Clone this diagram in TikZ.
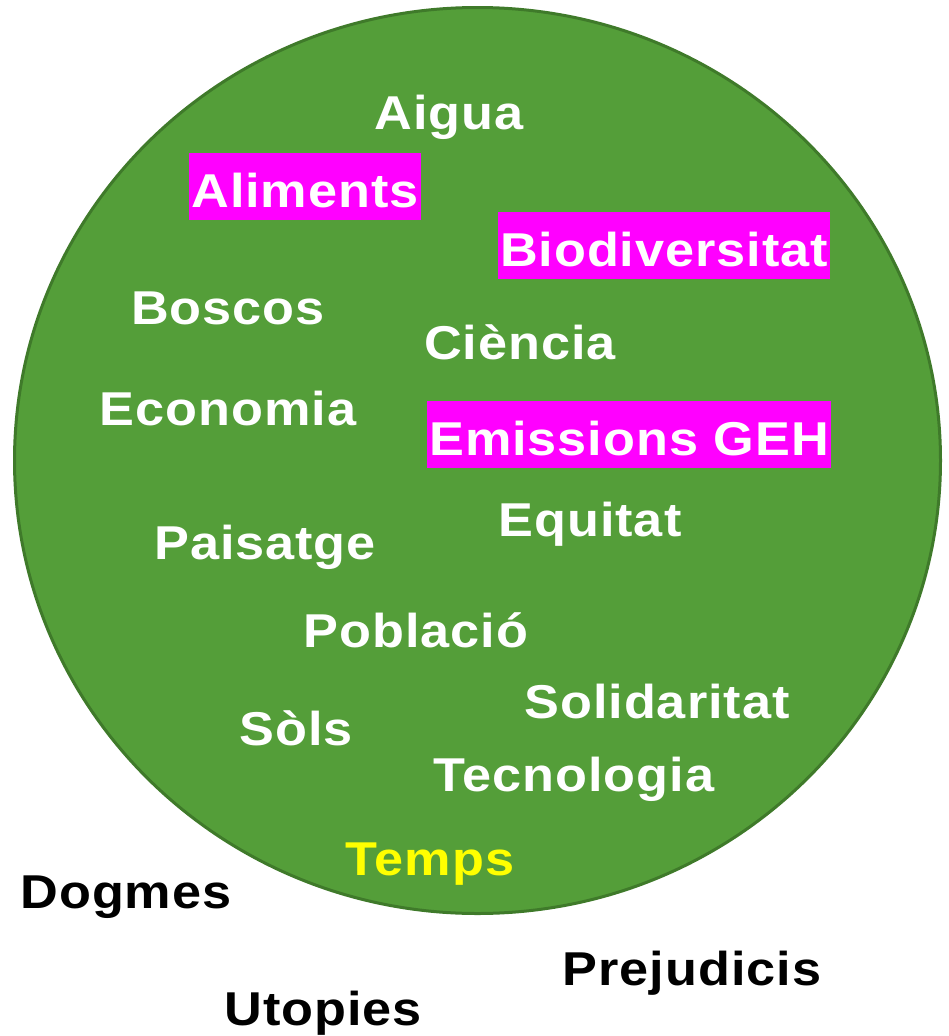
\documentclass[tikz,border=0pt]{standalone}
\usepackage{xcolor}
\usepackage{fontspec}
\newfontfamily\wordfont{Liberation Sans}[LetterSpace=2,FakeStretch=1.1]
\definecolor{leaf}{HTML}{549E39}
\definecolor{leafdark}{HTML}{3F7A2A}
\definecolor{pinkbox}{HTML}{FF00FF}
\definecolor{sun}{HTML}{FFFF00}

\begin{document}
\begin{tikzpicture}[x=1pt,y=-1pt,
  word/.style={anchor=base,inner sep=0pt,font=\wordfont\fontsize{47.5}{56}\selectfont\bfseries,white},
  hl/.style={word,fill=pinkbox,inner xsep=2pt,text height=54pt,text depth=13pt},
  outside/.style={word,black}]
\useasboundingbox (0,0) rectangle (948,1036);
\draw[leafdark,line width=3pt,fill=leaf] (477.5,460.5) ellipse [x radius=463,y radius=453];
\node[word] (aigua) at (449,129) {Aigua};
\node[hl] (aliments) at (305,207) {Aliments};
\node[hl] (biodiv) at (664,266) {Biodiversitat};
\node[word] (boscos) at (228,324) {Boscos};
\node[word] (ciencia) at (520,359) {Ciència};
\node[word] (economia) at (228,425) {Economia};
\node[hl] (emissions) at (629,455) {Emissions GEH};
\node[word] (equitat) at (590,536) {Equitat};
\node[word] (paisatge) at (265,559) {Paisatge};
\node[word] (poblacio) at (416,647) {Població};
\node[word] (solidaritat) at (657,718) {Solidaritat};
\node[word] (sols) at (296,745) {Sòls};
\node[word] (tecnologia) at (574,791) {Tecnologia};
\node[word,sun] (temps) at (430,875) {Temps};
\node[outside] (dogmes) at (126,908) {Dogmes};
\node[outside] (prejudicis) at (692,985) {Prejudicis};
\node[outside] (utopies) at (323,1025) {Utopies};
\end{tikzpicture}
\end{document}
